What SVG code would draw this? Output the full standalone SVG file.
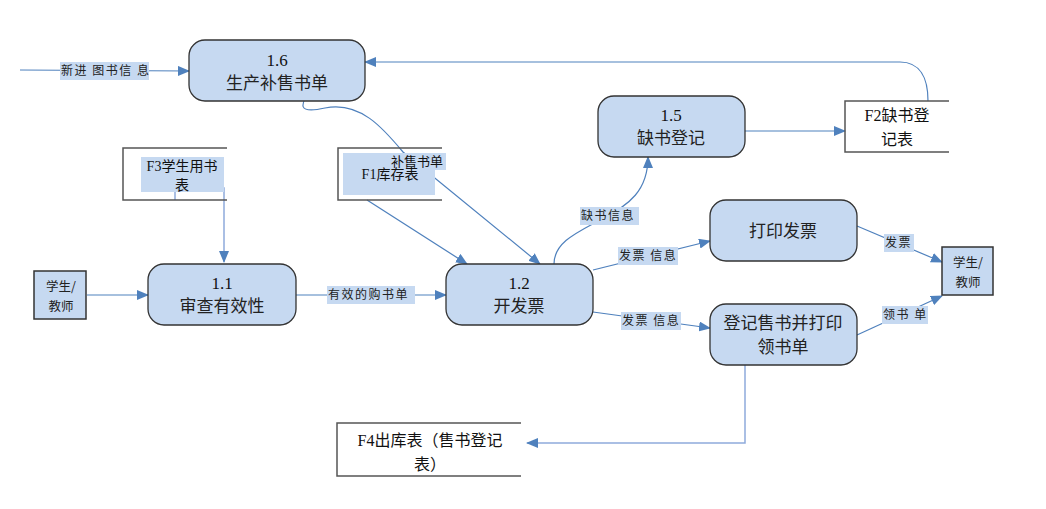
<svg xmlns="http://www.w3.org/2000/svg" width="1046" height="509" viewBox="0 0 1046 509">
<style>
.proc{fill:#c6d9f1;stroke:#333;stroke-width:1.3}
.ext{fill:#c6d9f1;stroke:#333;stroke-width:1.5}
.store{fill:none;stroke:#555;stroke-width:1.5}
.lbg{fill:#c6d9f1}
.c{fill:none;stroke:#4f81bd;stroke-width:1.2}
.cl{fill:none;stroke:#8eaadb;stroke-width:1.5}
.num{font-family:"Liberation Serif","Noto Sans CJK SC",serif;font-size:17px;fill:#111;text-anchor:middle}
.zh{font-family:"Noto Sans CJK SC",sans-serif;font-size:17px;fill:#222;text-anchor:middle}
.st{font-family:"Liberation Serif","Noto Sans CJK SC",serif;font-size:16px;fill:#111;text-anchor:middle}
.lb{font-family:"Noto Sans CJK SC",sans-serif;font-size:12px;fill:#222;letter-spacing:1.5px}
.ex{font-family:"Noto Sans CJK SC",sans-serif;font-size:12.5px;fill:#222;text-anchor:middle}
</style>
<defs>
<marker id="ah" markerWidth="12" markerHeight="10" refX="11" refY="5" orient="auto" markerUnits="userSpaceOnUse">
<path d="M0,0 L12,5 L0,10 Z" fill="#4f81bd"/>
</marker>
</defs>

<g id="connectors">
<path class="c" d="M20,70 L189,71" marker-end="url(#ah)"/>
<path class="c" d="M928,101 C928,78 920,62 900,62 L365,62" marker-end="url(#ah)"/>
<path class="c" d="M87,295 L148,295" marker-end="url(#ah)"/>
<path class="c" d="M296,295 L446,295" marker-end="url(#ah)"/>
<path class="cl" d="M175,200 L175,188 L224,188 L224,262" marker-end="url(#ah)"/>
<path class="c" d="M367,200 L467,264" marker-end="url(#ah)"/>
<path class="c" d="M313,87 C298,106 298,114 325,108 C360,101 383,128 403,152 L540,264" marker-end="url(#ah)"/>
<path class="c" d="M554,264 C554,242 578,232 600,220 C630,205 648,190 648,157" marker-end="url(#ah)"/>
<path class="c" d="M745,131 L845,131" marker-end="url(#ah)"/>
<path class="c" d="M593,270 L710,241" marker-end="url(#ah)"/>
<path class="c" d="M593,312 L710,328" marker-end="url(#ah)"/>
<path class="c" d="M857,226 L942,262" marker-end="url(#ah)"/>
<path class="c" d="M857,335 L942,296" marker-end="url(#ah)"/>
<path class="cl" d="M745,365 L745,443 L527,443" marker-end="url(#ah)"/>
</g>

<g id="labels">
<rect class="lbg" x="60" y="62" width="89" height="18"/>
<text class="lb" x="61" y="75">新进 图书信 息</text>
<rect class="lbg" x="327" y="286" width="88" height="18"/>
<text class="lb" x="328" y="299">有效的购书单</text>
<rect class="lbg" x="580" y="207" width="59" height="18"/>
<text class="lb" x="581" y="220">缺书信息</text>
<rect class="lbg" x="618" y="247" width="60" height="18"/>
<text class="lb" x="619" y="260">发票 信息</text>
<rect class="lbg" x="621" y="312" width="60" height="18"/>
<text class="lb" x="622" y="325">发票 信息</text>
<rect class="lbg" x="884" y="234" width="30" height="18"/>
<text class="lb" x="885" y="247">发票</text>
<rect class="lbg" x="882" y="306" width="46" height="18"/>
<text class="lb" x="883" y="319">领书 单</text>
</g>

<g id="n1_6">
<rect class="proc" x="189" y="40" width="176" height="61" rx="16"/>
<text class="num" x="277" y="66">1.6</text>
<text class="zh" x="277" y="89">生产补售书单</text>
</g>
<g id="n1_1">
<rect class="proc" x="148" y="264" width="148" height="61" rx="16"/>
<text class="num" x="222" y="289">1.1</text>
<text class="zh" x="222" y="312">审查有效性</text>
</g>
<g id="n1_2">
<rect class="proc" x="446" y="264" width="147" height="61" rx="16"/>
<text class="num" x="519" y="289">1.2</text>
<text class="zh" x="519" y="312">开发票</text>
</g>
<g id="n1_5">
<rect class="proc" x="598" y="96" width="147" height="61" rx="16"/>
<text class="num" x="671" y="121">1.5</text>
<text class="zh" x="671" y="144">缺书登记</text>
</g>
<g id="n_print">
<rect class="proc" x="710" y="200" width="147" height="61" rx="16"/>
<text class="zh" x="783" y="237">打印发票</text>
</g>
<g id="n_reg">
<rect class="proc" x="710" y="304" width="147" height="61" rx="16"/>
<text class="zh" x="783" y="329">登记售书并打印</text>
<text class="zh" x="783" y="353">领书单</text>
</g>
<g id="ext_left">
<rect class="ext" x="34" y="271" width="52" height="48"/>
<text class="ex" x="61" y="291">学生/</text>
<text class="ex" x="61" y="311">教师</text>
</g>
<g id="ext_right">
<rect class="ext" x="942" y="247" width="51" height="48"/>
<text class="ex" x="968" y="267">学生/</text>
<text class="ex" x="968" y="287">教师</text>
</g>
<g id="F3">
<path class="store" d="M227,148 L123,148 L123,200 L227,200"/>
<rect class="lbg" x="141" y="157" width="83" height="35"/>
<text class="st" x="182" y="171" style="font-size:14px">F3学生用书</text>
<text class="st" x="182" y="190" style="font-size:14px">表</text>
</g>
<g id="F1">
<path class="store" d="M442,148 L338,148 L338,200 L442,200"/>
<rect class="lbg" x="343" y="153" width="92" height="42"/>
<rect class="lbg" x="388" y="153" width="58" height="17"/>
<text class="st" x="417" y="166" style="font-size:13px">补售书单</text>
<text class="st" x="390" y="179" style="font-size:14px">F1库存表</text>
</g>
<g id="F2">
<path class="store" d="M949,101 L845,101 L845,152 L949,152"/>
<text class="st" x="897" y="121">F2缺书登</text>
<text class="st" x="897" y="145">记表</text>
</g>
<g id="F4">
<path class="store" d="M521,423 L337,423 L337,476 L521,476"/>
<text class="st" x="430" y="446">F4出库表（售书登记</text>
<text class="st" x="430" y="470">表）</text>
</g>
</svg>
